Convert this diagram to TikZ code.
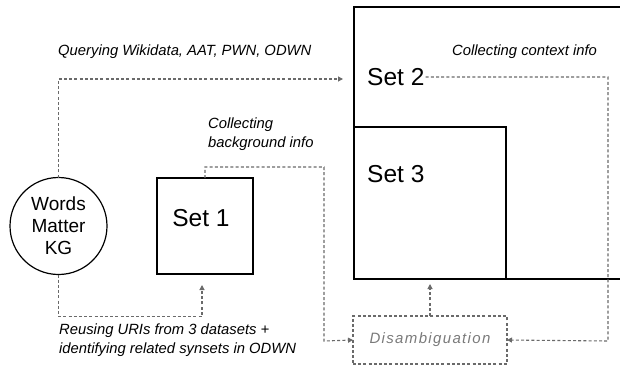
\documentclass[tikz,border=0pt]{standalone}
\usepackage{fontspec}
\setmainfont{Liberation Sans}
\newfontfamily\spacedfont[LetterSpace=9]{Liberation Sans}
\usetikzlibrary{arrows.meta,calc}
\definecolor{lg}{HTML}{6A6A6A}
\definecolor{dg}{HTML}{7A7A7A}
\begin{document}
\begin{tikzpicture}[x=1pt,y=-1pt,
  box/.style={draw=black,line width=1.4pt,inner sep=0pt,outer sep=0pt},
  conn/.style={draw=lg,line width=1.1pt,dash pattern=on 3pt off 2.2pt,-{Triangle[length=5pt,width=5pt]}},
  lab/.style={font=\fontsize{14.8}{18.5}\selectfont\itshape,inner sep=0pt,align=left},
  big/.style={font=\fontsize{24.5}{30}\selectfont,inner sep=1pt}]
\useasboundingbox (0,0) rectangle (620,367);
\clip (0,0) rectangle (620,367);

% boxes
\node[box,minimum width=290pt,minimum height=272pt,anchor=north west] (set2box) at (354,7) {};
\node[box,minimum width=152pt,minimum height=152pt,anchor=north west] (set3) at (354,127) {};
\node[box,minimum width=96pt,minimum height=96pt,anchor=north west] (set1) at (157,178) {};
\node[draw=black,line width=1.2pt,circle,minimum size=97pt,inner sep=0pt,outer sep=0pt,
      align=center,font=\fontsize{19}{22}\selectfont] (kg) at (58.5,226) {Words\\Matter\\KG};
\node[draw=lg,line width=1.1pt,dash pattern=on 3pt off 2.2pt,minimum width=154pt,minimum height=48pt,
      inner sep=0pt,outer sep=0pt,anchor=north west,text=dg,font=\fontsize{15}{18}\selectfont\spacedfont\itshape]
      (disamb) at (353,316) {Disambiguation\hspace{9pt}};

% big labels
\node[big,anchor=west] (set2lab) at (366,77) {Set 2};
\node[big,anchor=base west] (set3lab) at (366,182) {Set 3};
\node[big,anchor=base] (set1lab) at (201,226) {Set 1};

% small labels
\node[lab,anchor=west] (q1) at (58,52) {Querying Wikidata, AAT, PWN, ODWN};
\node[lab,anchor=west] (q2) at (452,52) {Collecting context info};
\node[lab,anchor=north west] (q3) at (208,118) {Collecting\\background info};
\node[lab,anchor=north west] (q4) at (59,324) {Reusing URIs from 3 datasets +\\identifying related synsets in ODWN};

% connectors
\coordinate (t1) at (343,79);
\coordinate (t2) at (202,285);
\coordinate (c1) at (324,341);
\coordinate (c2) at (608,341);
\coordinate (t5) at (430,284);
\draw[conn] (kg.north) |- (t1);
\draw[conn] (kg.south) -- ++(0,42) -| (t2);
\draw[conn] (set1.north) -- ++(0,-11) -| (c1) -- (disamb.west);
\draw[conn] (set2lab.east) -| (c2) -- (disamb.east);
\draw[conn] (disamb.north) -- (t5);
\end{tikzpicture}
\end{document}
